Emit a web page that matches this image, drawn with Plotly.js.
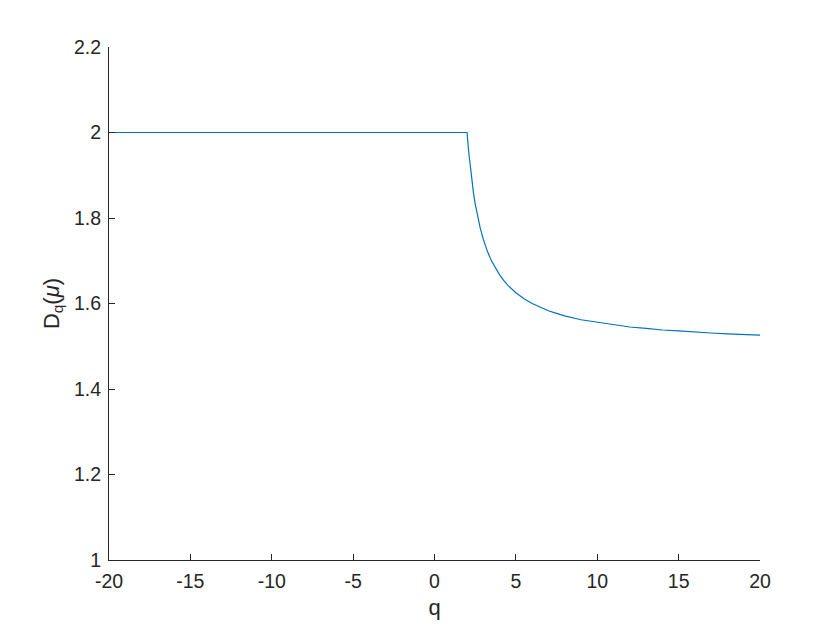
<!DOCTYPE html>
<html>
<head>
<meta charset="utf-8">
<script src="https://cdn.plot.ly/plotly-3.0.1.min.js"></script>
<style>html,body{margin:0;padding:0;background:#fff;}#chart{width:840px;height:630px;}</style>
</head>
<body>
<div id="chart"></div>
<script>
var qValues = [-20, -15, -10, -5, 0, 2, 2.1, 2.2, 2.3, 2.4, 2.5, 2.6, 2.8, 3, 3.25, 3.5, 3.75, 4, 4.25, 4.5, 5, 5.5, 6, 6.5, 7, 7.5, 8, 9, 10, 11, 12, 13, 14, 15, 16, 17, 18, 19, 20];
var dqValues = [2, 2, 2, 2, 2, 2, 1.955, 1.917, 1.885, 1.857, 1.833, 1.812, 1.778, 1.75, 1.722, 1.70, 1.682, 1.667, 1.654, 1.643, 1.625, 1.611, 1.60, 1.591, 1.583, 1.577, 1.571, 1.562, 1.556, 1.550, 1.545, 1.542, 1.538, 1.536, 1.533, 1.531, 1.529, 1.528, 1.526];
var xTicks = [-20, -15, -10, -5, 0, 5, 10, 15, 20];
var yTicks = [1, 1.2, 1.4, 1.6, 1.8, 2, 2.2];
var yTickText = ['1', '1.2', '1.4', '1.6', '1.8', '2', '2.2'];

var axisColor = '#262626';
var trace = {
  x: qValues, y: dqValues, type: 'scatter', mode: 'lines',
  line: {color: '#0072BD', width: 1.2},
  hoverinfo: 'skip'
};
var layout = {
  width: 840, height: 630,
  paper_bgcolor: '#ffffff', plot_bgcolor: '#ffffff',
  margin: {l: 109, r: 80, t: 47, b: 70},
  showlegend: false,
  font: {family: 'Liberation Sans, Arial, sans-serif', size: 19, color: axisColor},
  xaxis: {
    range: [-20, 20], tickvals: xTicks, ticktext: xTicks.map(String),
    showgrid: false, zeroline: false, showline: true, linecolor: axisColor, linewidth: 1,
    ticks: 'inside', ticklen: 6, tickcolor: axisColor, tickwidth: 1,
    tickfont: {size: 19.5, color: axisColor}, ticklabelstandoff: 4,
    title: {text: 'q', font: {size: 22, color: axisColor}, standoff: 8},
    automargin: false, fixedrange: true
  },
  yaxis: {
    range: [1, 2.2], tickvals: yTicks, ticktext: yTickText,
    showgrid: false, zeroline: false, showline: true, linecolor: axisColor, linewidth: 1,
    ticks: 'inside', ticklen: 6, tickcolor: axisColor, tickwidth: 1,
    tickfont: {size: 19.5, color: axisColor}, ticklabelstandoff: 3,
    title: {text: 'D<sub>q</sub>(<i>μ</i>)', font: {size: 22, color: axisColor}, standoff: 8},
    automargin: false, fixedrange: true
  }
};
Plotly.newPlot('chart', [trace], layout, {displayModeBar: false, staticPlot: true});
</script>
</body>
</html>
